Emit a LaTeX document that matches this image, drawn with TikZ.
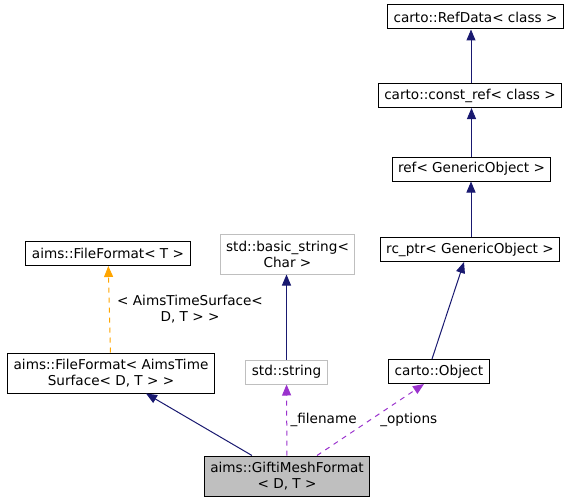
\documentclass[tikz,border=0pt]{standalone}
\usepackage{fontspec}
\setmainfont{DejaVu Sans}
\usetikzlibrary{arrows.meta}

\definecolor{doxblue}{HTML}{191970}
\definecolor{doxpurple}{HTML}{9A32CD}
\definecolor{doxorange}{HTML}{FFA500}
\definecolor{doxgray}{HTML}{BFBFBF}

\begin{document}
\begin{tikzpicture}[x = 1pt, y = -1pt, > = {Triangle[length = 11pt, width = 9pt]},
	classbox/.style = {draw = black, line width = 1pt, inner xsep = 6pt, inner ysep = 4pt,
		minimum height = 24pt, align = center, font = \fontsize{13.6}{16}\selectfont},
	twoline/.style = {minimum height = 40pt},
	extbox/.style = {classbox, draw = doxgray},
	mainbox/.style = {classbox, fill = doxgray},
	inherit/.style = {->, doxblue, line width = 1pt},
	usage/.style = {->, doxpurple, line width = 1pt, dash pattern = on 5pt off 5pt},
	tmpl/.style = {->, doxorange, line width = 1pt, dash pattern = on 5pt off 5pt},
	edgelabel/.style = {text = black, font = \fontsize{13.6}{16}\selectfont, align = center}]

	\useasboundingbox (0, 0) rectangle (570, 503);

	% Classes

	\node [mainbox, twoline] (gifti) at (287, 476) {aims::GiftiMeshFormat\\< D, T >};
	\node [classbox, twoline] (ffats) at (111, 373) {aims::FileFormat< AimsTime\\Surface< D, T > >};
	\node [classbox] (fft) at (108, 253.5) {aims::FileFormat< T >};
	\node [extbox] (string) at (286.5, 372) {std::string};
	\node [extbox, twoline] (basicstr) at (287.5, 254) {std::basic\_string<\\Char >};
	\node [classbox] (object) at (439, 371.5) {carto::Object};
	\node [classbox] (rcptr) at (470, 249.5) {rc\_ptr< GenericObject >};
	\node [classbox] (ref) at (471.5, 169) {ref< GenericObject >};
	\node [classbox] (constref) at (470, 95.5) {carto::const\_ref< class >};
	\node [classbox] (refdata) at (475.5, 17) {carto::RefData< class >};

	% Inheritance

	\draw [inherit] (gifti) -- (ffats);
	\draw [inherit] (string) -- (string.north |- basicstr.south);
	\draw [inherit] ([xshift = -7pt] object.north) -- ([xshift = -6pt] rcptr.south);
	\draw [inherit] ([xshift = 1pt] rcptr.north) -- ([xshift = 1pt] rcptr.north |- ref.south);
	\draw [inherit] (ref.north) -- (ref.north |- constref.south);
	\draw [inherit] ([xshift = 1pt] constref.north) -- ([xshift = 1pt] constref.north |- refdata.south);

	% Template instance

	\draw [tmpl] (ffats) -- (fft)
		node [edgelabel, midway, right, xshift = 4pt] {< AimsTimeSurface<\\D, T > >};

	% Usage

	\draw [usage] (gifti) -- (string)
		node [edgelabel, midway, right] {\_filename};
	\draw [usage] ([xshift = 30pt] gifti.north) -- ([xshift = -15pt] object.south)
		node [edgelabel, midway, right, xshift = 6pt] {\_options};

\end{tikzpicture}
\end{document}
